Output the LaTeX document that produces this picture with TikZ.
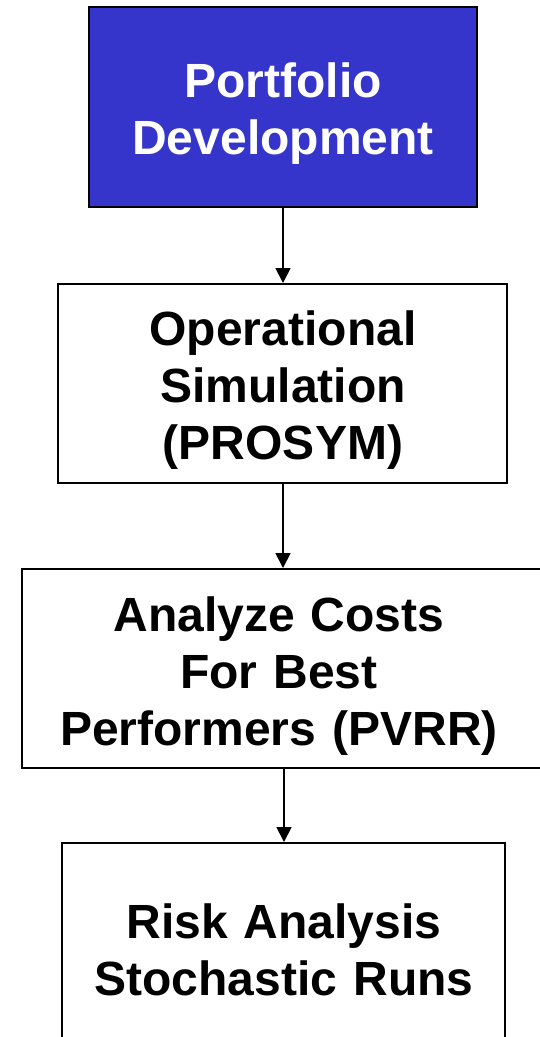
\documentclass[tikz,border=0pt]{standalone}
\usepackage{fontspec}
\setmainfont{Liberation Sans}
\usetikzlibrary{arrows.meta}
\definecolor{boxblue}{HTML}{3535CC}
\tikzset{
  box/.style={draw=black, line width=2pt, inner sep=0pt},
  lbl/.style={text width=520pt, align=center, anchor=base, inner sep=0pt,
    font=\fontsize{48}{57}\selectfont\bfseries},
  conn/.style={line width=1.8pt, -{Triangle[width=15pt,length=15pt]}}
}
\begin{document}
\begin{tikzpicture}[x=1pt,y=1pt]
\useasboundingbox (0,0) rectangle (540,-1037);
\clip (0,0) rectangle (540,-1037);
% boxes
\node[box, fill=boxblue, minimum width=388pt, minimum height=200pt] (b1) at (283,-107) {};
\node[box, fill=white, minimum width=449pt, minimum height=199pt] (b2) at (282.5,-383.5) {};
\node[box, fill=white, minimum width=526pt, minimum height=199pt] (b3) at (285,-668.5) {};
\node[box, fill=white, minimum width=443pt, minimum height=202pt] (b4) at (283.5,-944) {};
% texts
\node[lbl, text=white] (t1) at (283,-97) {Portfolio\\Development};
\node[lbl] (t2) at (283,-345) {Operational\\Simulation\\(PROSYM)};
\node[lbl] (t3) at (279,-631) {Analyze Costs\\For Best\\Performers (PVRR)};
\node[lbl] (t4) at (284,-938) {Risk Analysis\\Stochastic Runs};
% connectors
\draw[conn] (b1.south -| 283,0) -- (b2.north -| 283,0);
\draw[conn] (b2.south -| 283,0) -- (b3.north -| 283,0);
\draw[conn] (b3.south -| 284,0) -- (b4.north -| 284,0);
\end{tikzpicture}
\end{document}
